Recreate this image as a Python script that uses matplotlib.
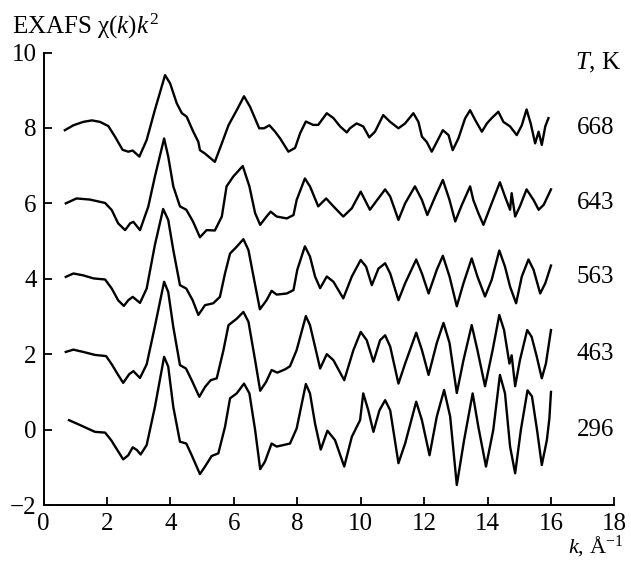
import matplotlib
matplotlib.use('Agg')

import matplotlib.pyplot as plt

# 글꼴 설정 (Times 계열)
plt.rcParams['font.family'] = ['Liberation Serif', 'DejaVu Serif']
plt.rcParams['mathtext.fontset'] = 'custom'
plt.rcParams['mathtext.rm'] = 'Liberation Serif'
plt.rcParams['mathtext.it'] = 'Liberation Serif:italic'

# 온도별 EXAFS 스펙트럼 (그림에서 읽은 값, 오프셋 포함)
temps = ['668', '643', '563', '463', '296']
label_y = [8.0, 6.0, 4.05, 2.0, 0.0]

k_296 = [0.80, 1.15, 1.62, 1.94, 2.13, 2.51, 2.67, 2.81, 2.94, 3.06,
         3.25, 3.51, 3.80, 3.93, 4.09, 4.30, 4.50, 4.67, 4.93, 5.09,
         5.30, 5.51, 5.72, 5.88, 6.09, 6.32, 6.49, 6.67, 6.83, 6.98,
         7.19, 7.35, 7.56, 7.77, 7.98, 8.27, 8.40, 8.56, 8.74, 8.95,
         9.19, 9.48, 9.72, 9.98, 10.08, 10.24, 10.40, 10.59, 10.77, 10.93,
         11.19, 11.40, 11.75, 11.93, 12.17, 12.40, 12.63, 12.82, 13.03, 13.26,
         13.53, 13.71, 13.95, 14.18, 14.39, 14.55, 14.71, 14.87, 15.05, 15.26,
         15.40, 15.56, 15.71, 15.87, 15.95, 16.00]
chi_296 = [0.25, 0.12, -0.06, -0.08, -0.28, -0.79, -0.68, -0.47, -0.54, -0.66,
           -0.41, 0.60, 1.93, 1.67, 0.60, -0.32, -0.37, -0.68, -1.18, -0.98,
           -0.70, -0.63, 0.07, 0.83, 0.96, 1.22, 0.96, -0.01, -1.05, -0.85,
           -0.37, -0.45, -0.41, -0.37, 0.03, 1.21, 0.96, 0.16, -0.53, -0.03,
           -0.28, -0.98, -0.19, 0.25, 0.96, 0.51, -0.06, 0.51, 0.78, 0.51,
           -0.89, -0.37, 0.74, 0.25, -0.68, 0.35, 1.05, 0.35, -1.47, -0.28,
           0.96, 0.07, -0.98, -0.01, 1.45, 0.96, -0.45, -1.16, -0.01, 1.04,
           0.88, -0.01, -0.94, -0.28, 0.30, 1.00]

k_463 = [0.70, 0.94, 1.25, 1.62, 1.97, 2.15, 2.35, 2.51, 2.70, 2.83,
         3.04, 3.25, 3.50, 3.80, 3.93, 4.09, 4.30, 4.49, 4.67, 4.91,
         5.09, 5.27, 5.46, 5.67, 5.83, 6.09, 6.30, 6.46, 6.67, 6.83,
         7.02, 7.19, 7.37, 7.62, 7.77, 7.98, 8.27, 8.40, 8.56, 8.72,
         8.93, 9.14, 9.48, 9.77, 10.00, 10.19, 10.40, 10.61, 10.77, 10.93,
         11.19, 11.40, 11.75, 11.93, 12.14, 12.40, 12.61, 12.80, 13.03, 13.24,
         13.50, 13.68, 13.92, 14.16, 14.37, 14.52, 14.69, 14.76, 14.87, 15.02,
         15.25, 15.39, 15.55, 15.71, 15.84, 16.00]
chi_463 = [2.06, 2.12, 2.06, 1.98, 1.95, 1.73, 1.45, 1.24, 1.47, 1.55,
           1.37, 1.73, 2.70, 3.92, 3.65, 2.72, 1.71, 1.62, 1.31, 0.87,
           1.13, 1.31, 1.36, 2.10, 2.77, 2.94, 3.12, 2.86, 1.84, 1.03,
           1.27, 1.58, 1.51, 1.60, 1.68, 2.11, 3.01, 2.77, 2.20, 1.62,
           2.00, 1.84, 1.31, 2.11, 2.59, 2.37, 1.80, 2.37, 2.50, 2.20,
           1.22, 1.75, 2.57, 2.11, 1.45, 2.30, 2.83, 2.30, 0.97, 1.84,
           2.77, 2.11, 1.15, 2.11, 3.04, 2.64, 1.75, 1.97, 1.15, 1.84,
           2.64, 2.46, 1.94, 1.36, 1.75, 2.64]

k_563 = [0.70, 0.94, 1.25, 1.57, 1.94, 2.15, 2.35, 2.53, 2.67, 2.81,
         3.04, 3.25, 3.51, 3.77, 3.93, 4.09, 4.30, 4.50, 4.70, 4.88,
         5.09, 5.35, 5.56, 5.72, 5.88, 6.09, 6.30, 6.46, 6.64, 6.82,
         7.03, 7.19, 7.35, 7.67, 7.88, 8.00, 8.24, 8.40, 8.56, 8.72,
         8.93, 9.14, 9.45, 9.72, 10.00, 10.17, 10.35, 10.56, 10.77, 10.93,
         11.19, 11.40, 11.75, 11.93, 12.14, 12.40, 12.59, 12.80, 13.03, 13.24,
         13.50, 13.68, 13.92, 14.13, 14.37, 14.55, 14.71, 14.90, 15.08, 15.29,
         15.45, 15.66, 15.82, 16.00]
chi_563 = [4.05, 4.14, 4.09, 4.01, 3.98, 3.74, 3.43, 3.28, 3.43, 3.52,
           3.36, 3.74, 4.90, 5.85, 5.56, 4.76, 3.83, 3.74, 3.43, 3.04,
           3.30, 3.35, 3.52, 4.14, 4.67, 4.85, 5.05, 4.76, 3.97, 3.19,
           3.43, 3.68, 3.58, 3.61, 3.70, 4.24, 4.86, 4.59, 4.06, 3.75,
           4.06, 3.92, 3.48, 4.06, 4.50, 4.32, 3.83, 4.27, 4.41, 4.14,
           3.43, 3.88, 4.51, 4.14, 3.61, 4.24, 4.61, 4.06, 3.27, 3.88,
           4.54, 4.06, 3.53, 3.97, 4.75, 4.32, 3.79, 3.35, 4.06, 4.51,
           4.24, 3.61, 3.88, 4.35]

k_643 = [0.70, 1.04, 1.46, 1.94, 2.15, 2.35, 2.57, 2.73, 2.83, 3.04,
         3.30, 3.51, 3.80, 3.93, 4.09, 4.30, 4.50, 4.71, 4.93, 5.14,
         5.40, 5.62, 5.77, 5.98, 6.28, 6.49, 6.67, 6.83, 7.03, 7.16,
         7.35, 7.67, 7.88, 7.98, 8.24, 8.40, 8.66, 8.91, 9.14, 9.45,
         9.72, 10.00, 10.29, 10.52, 10.77, 10.93, 11.19, 11.40, 11.71, 11.93,
         12.10, 12.35, 12.59, 12.80, 12.98, 13.19, 13.45, 13.55, 13.71, 13.87,
         14.13, 14.39, 14.55, 14.71, 14.76, 14.87, 15.02, 15.23, 15.45, 15.61,
         15.77, 16.00]
chi_643 = [6.00, 6.13, 6.10, 6.01, 5.82, 5.47, 5.29, 5.47, 5.51, 5.29,
           5.91, 6.71, 7.72, 7.24, 6.45, 5.92, 5.83, 5.52, 5.10, 5.29,
           5.28, 5.65, 6.45, 6.71, 6.99, 6.45, 5.74, 5.43, 5.65, 5.78,
           5.65, 5.60, 5.69, 6.09, 6.66, 6.45, 5.92, 6.13, 5.92, 5.65,
           5.87, 6.31, 5.83, 6.09, 6.37, 6.18, 5.56, 6.00, 6.45, 6.09,
           5.69, 6.18, 6.62, 6.09, 5.52, 5.96, 6.45, 6.09, 5.74, 5.43,
           6.00, 6.56, 6.18, 5.83, 6.27, 5.65, 5.92, 6.37, 6.09, 5.83,
           5.96, 6.37]

k_668 = [0.67, 0.94, 1.25, 1.52, 1.78, 2.04, 2.25, 2.49, 2.67, 2.81,
         3.02, 3.25, 3.51, 3.83, 3.99, 4.20, 4.36, 4.51, 4.72, 4.88,
         4.93, 5.09, 5.40, 5.62, 5.83, 6.09, 6.32, 6.51, 6.80, 6.95,
         7.12, 7.30, 7.46, 7.72, 7.93, 8.09, 8.27, 8.50, 8.66, 8.93,
         9.14, 9.35, 9.56, 9.66, 9.87, 10.08, 10.27, 10.45, 10.71, 10.93,
         11.19, 11.40, 11.66, 11.82, 11.93, 12.08, 12.24, 12.40, 12.59, 12.77,
         12.90, 13.08, 13.29, 13.45, 13.61, 13.82, 13.98, 14.13, 14.34, 14.50,
         14.71, 14.92, 15.08, 15.23, 15.36, 15.50, 15.61, 15.71, 15.82, 15.92]
chi_668 = [7.94, 8.07, 8.16, 8.20, 8.16, 8.05, 7.77, 7.42, 7.37, 7.40,
           7.24, 7.68, 8.48, 9.40, 9.18, 8.65, 8.39, 8.30, 7.90, 7.63,
           7.41, 7.32, 7.10, 7.59, 8.07, 8.47, 8.84, 8.56, 7.99, 7.99,
           8.07, 7.90, 7.72, 7.37, 7.47, 7.86, 8.17, 8.08, 8.08, 8.39,
           8.26, 8.04, 7.88, 7.99, 8.12, 8.04, 7.75, 7.90, 8.34, 8.16,
           7.99, 8.12, 8.39, 8.16, 7.77, 7.63, 7.37, 7.63, 7.94, 7.81,
           7.41, 7.72, 8.25, 8.47, 8.21, 7.90, 8.12, 8.26, 8.43, 8.16,
           8.04, 7.81, 8.07, 8.49, 8.12, 7.59, 7.90, 7.55, 8.04, 8.26]

xticks = [0, 2, 4, 6, 8, 10, 12, 14, 16, 18]
yticks = [-2, 0, 2, 4, 6, 8, 10]

fig = plt.figure(figsize=(6.31, 5.61), dpi=100)
ax = fig.add_axes([0.0691, 0.0998, 0.9046, 0.8066])

for k, chi in [(k_668, chi_668), (k_643, chi_643), (k_563, chi_563),
               (k_463, chi_463), (k_296, chi_296)]:
    ax.plot(k, chi, color='black', lw=1.7, solid_joinstyle='round')

ax.set_xlim(0, 18)
ax.set_ylim(-2, 10)
ax.set_xticks(xticks)
ax.set_yticks(yticks)
ax.spines['top'].set_visible(False)
ax.spines['right'].set_visible(False)
for s in ['left', 'bottom']:
    ax.spines[s].set_linewidth(1.4)
ax.tick_params(direction='in', length=6, width=1.3, labelsize=18)
ax.tick_params(axis='x', pad=6)
ax.tick_params(axis='y', pad=5)

# 온도 라벨
for t, y in zip(temps, label_y):
    ax.text(16.82, y, t, fontsize=18, ha='left', va='center')
ax.text(16.76, 9.72, r'$T$, K', fontsize=18, ha='left', va='center')

# 축 제목
fig.text(0.019, 0.952, r'EXAFS $\mathrm{\chi}(k)k^2$', fontsize=18,
         ha='left', va='center')
fig.text(0.988, 0.004, r'$k$, Å$^{-1}$', fontsize=16, ha='right', va='bottom')

fig.savefig('out.png', dpi=100)
plt.close()
